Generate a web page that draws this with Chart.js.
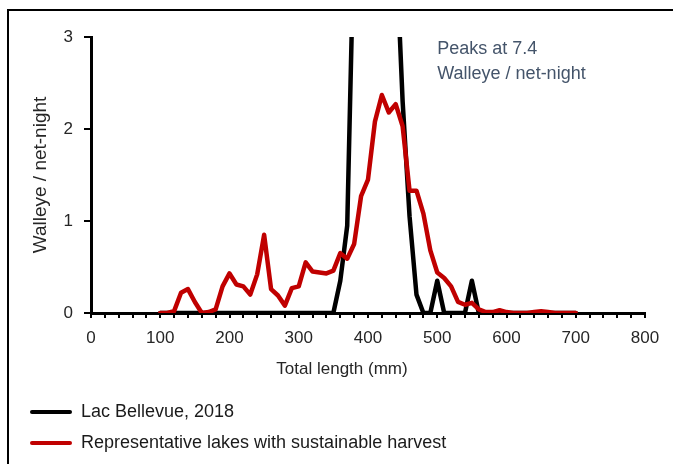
<!DOCTYPE html>
<html><head><meta charset="utf-8">
<script src="https://cdn.jsdelivr.net/npm/chart.js@4.4.1/dist/chart.umd.min.js"></script>
<style>
html,body{margin:0;padding:0;background:#fff;}
#wrap{position:relative;width:673px;height:464px;overflow:hidden;}
#frame{position:absolute;left:7px;top:9px;width:700px;height:500px;border:2px solid #000;box-sizing:border-box;pointer-events:none;}
canvas{position:absolute;left:0;top:0;}
</style></head><body>
<div id="wrap"><canvas id="c" width="673" height="464"></canvas><div id="frame"></div></div>
<script>
// ---- data ----
const lengthsMm = [100,110,120,130,140,150,160,170,180,190,200,210,220,230,240,250,260,270,280,290,300,310,320,330,340,350,360,370,380,390,400,410,420,430,440,450,460,470,480,490,500,510,520,530,540,550,560,570,580,590,600,610,620,630,640,650,660,670,680,690,700];
const lacBellevue2018 = [0,0,0,0,0,0,0,0,0,0,0,0,0,0,0,0,0,0,0,0,0,0,0,0,0,0,0.35,0.95,4.2,6.0,7.4,6.8,6.2,5.3,4.05,2.3,1.05,0.2,0,0,0.35,0,0,0,0,0.35,0,0,0,0,0,0,0,0,0,0,0,0,0,0,0];
const representativeLakes = [0,0,0.02,0.22,0.26,0.12,0,0.01,0.04,0.29,0.43,0.31,0.29,0.2,0.42,0.85,0.26,0.19,0.08,0.27,0.29,0.55,0.45,0.44,0.43,0.46,0.65,0.59,0.75,1.27,1.45,2.08,2.37,2.18,2.27,2.03,1.33,1.33,1.08,0.68,0.44,0.38,0.29,0.12,0.09,0.11,0.04,0.01,0.01,0.03,0.01,0,0,0,0.01,0.02,0.01,0,0,0,0];
const seriesNames = ['Lac Bellevue, 2018', 'Representative lakes with sustainable harvest'];
const seriesColors = ['#000000', '#C00000'];
const yTickValues = [0, 1, 2, 3];
const xMinorTickValues = [0,20,40,60,80,100,120,140,160,180,200,220,240,260,280,300,320,340,360,380,400,420,440,460,480,500,520,540,560,580,600,620,640,660,680,700,720,740,760,780,800];
const xLabelTickValues = [0,100,200,300,400,500,600,700,800];
const xAxisTitle = 'Total length (mm)';
const yAxisTitle = 'Walleye / net-night';
const noteLines = ['Peaks at 7.4', 'Walleye / net-night'];

const FAM = "'Liberation Sans', Arial, sans-serif";
Chart.defaults.font.family = FAM;
Chart.defaults.color = '#262626';

const toPts = (vals) => lengthsMm.map((x, i) => ({x, y: vals[i]}));

const extras = {
  id: 'extras',
  afterLayout(chart) {
    const lg = chart.legend;
    if (lg) { const w = lg.width; lg.left = 17; lg.right = 17 + w; }
  },
  afterDraw(chart) {
    const ctx = chart.ctx;
    const xs = chart.scales.x;
    ctx.save();
    ctx.fillStyle = '#262626';
    ctx.font = '17px ' + FAM;
    ctx.textAlign = 'center';
    ctx.textBaseline = 'middle';
    ctx.fillText(xAxisTitle, 342, 369);
    ctx.fillStyle = '#44546A';
    ctx.font = '18px ' + FAM;
    ctx.textAlign = 'left';
    ctx.textBaseline = 'alphabetic';
    const nx = xs.getPixelForValue(500);
    ctx.fillText(noteLines[0], nx, 54);
    ctx.fillText(noteLines[1], nx, 79);
    ctx.restore();
  }
};

new Chart(document.getElementById('c'), {
  type: 'line',
  data: {
    datasets: [
      {label: seriesNames[0], data: toPts(lacBellevue2018), borderColor: seriesColors[0], backgroundColor: seriesColors[0], borderWidth: 4.5, pointRadius: 0, tension: 0, borderJoinStyle: 'round', borderCapStyle: 'round', order: 1},
      {label: seriesNames[1], data: toPts(representativeLakes), borderColor: seriesColors[1], backgroundColor: seriesColors[1], borderWidth: 4.5, pointRadius: 0, tension: 0, borderJoinStyle: 'round', borderCapStyle: 'round', order: 0}
    ]
  },
  options: {
    responsive: false,
    animation: false,
    devicePixelRatio: 1,
    layout: {padding: {left: 8, right: 28, top: 37, bottom: 2}},
    plugins: {
      tooltip: {enabled: false},
      legend: {
        position: 'bottom', align: 'start', fullSize: false,
        labels: {
          boxWidth: 42, boxHeight: 4, padding: 13, color: '#1a1a1a',
          font: {size: 18},
          sort: (a, b) => a.datasetIndex - b.datasetIndex,
          generateLabels(chart) {
            const items = Chart.defaults.plugins.legend.labels.generateLabels(chart);
            items.forEach(it => { it.lineWidth = 0; it.fillStyle = it.strokeStyle; it.borderRadius = 2; });
            return items;
          }
        }
      }
    },
    scales: {
      x: {
        type: 'linear', min: 0, max: 800,
        afterBuildTicks: s => { s.ticks = xMinorTickValues.map(v => ({value: v})); },
        afterFit: s => { s.height = 77; },
        ticks: {autoSkip: false, maxRotation: 0, padding: 10, font: {size: 17}, color: '#262626',
          callback: v => xLabelTickValues.includes(v) ? String(v) : ''},
        grid: {drawOnChartArea: false, drawTicks: true, tickLength: 5, color: '#000', lineWidth: 2},
        border: {display: true, color: '#000', width: 3}
      },
      y: {
        type: 'linear', min: 0, max: 3,
        afterBuildTicks: s => { s.ticks = yTickValues.map(v => ({value: v})); },
        afterFit: s => { s.width = 83; },
        ticks: {padding: 11, font: {size: 17}, color: '#262626'},
        grid: {drawOnChartArea: false, drawTicks: true, tickLength: 7, color: '#000', lineWidth: 2},
        border: {display: true, color: '#000', width: 3},
        title: {display: true, text: yAxisTitle, font: {size: 19}, color: '#262626', padding: {top: 21, bottom: 0}}
      }
    }
  },
  plugins: [extras]
});
</script>
</body></html>
